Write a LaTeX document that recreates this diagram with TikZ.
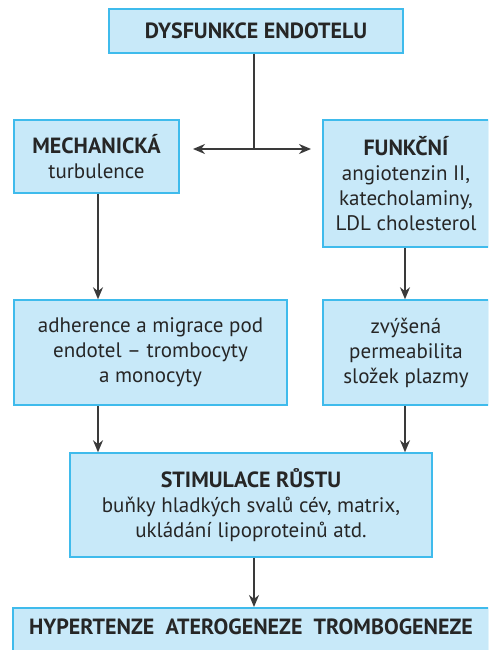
\documentclass[tikz,border=0pt]{standalone}
\usepackage{fontspec}
\setmainfont{PT Sans}
\usetikzlibrary{arrows.meta}
\definecolor{boxfill}{HTML}{C8E9F9}
\definecolor{boxline}{HTML}{3FBBEC}
\definecolor{linec}{HTML}{3A3A3A}
\newcommand{\hd}[1]{{\fontsize{22}{25}\selectfont\bfseries #1}}
\begin{document}
\begin{tikzpicture}[x=1pt,y=-1pt,
  box/.style={draw=boxline,fill=boxfill,line width=1.5pt,inner sep=0pt,align=center,
    font=\fontsize{21}{25}\selectfont,text=black!85},
  conn/.style={draw=linec,line width=1.6pt,-{Stealth[length=12pt,width=10pt]}},
  dconn/.style={draw=linec,line width=1.6pt,{Stealth[length=12pt,width=10pt]}-{Stealth[length=12pt,width=10pt]}},
  plain/.style={draw=linec,line width=1.6pt}]
\useasboundingbox (0,0) rectangle (488,650);
\clip (0,0) rectangle (488,650);
\node[box,minimum width=294pt,minimum height=44pt] (top) at (256,31) {\hd{DYSFUNKCE ENDOTELU}};
\node[box,minimum width=165pt,minimum height=73pt] (mech) at (96.5,156.5) {\hd{MECHANICKÁ}\\turbulence};
\node[box,minimum width=166pt,minimum height=127pt] (funk) at (406,183.5) {\hd{FUNKČNÍ}\\angiotenzin II,\\katecholaminy,\\LDL cholesterol};
\node[box,minimum width=273pt,minimum height=105pt] (adh) at (150.5,352.5) {adherence a migrace pod\\endotel -- trombocyty\\a monocyty};
\node[box,minimum width=166pt,minimum height=105pt] (perm) at (406,352.5) {zvýšená\\permeabilita\\složek plazmy};
\node[box,minimum width=362pt,minimum height=104pt] (stim) at (251,505) {\hd{STIMULACE RŮSTU}\\buňky hladkých svalů cév, matrix,\\ukládání lipoproteinů atd.};
\node[box,minimum width=476pt,minimum height=64pt,anchor=north] (bot) at (251,607) {\rule{0pt}{15pt}\hd{HYPERTENZE\ \ ATEROGENEZE\ \ TROMBOGENEZE}\rule[-26pt]{0pt}{0pt}};
\coordinate (j) at (254,149);
\coordinate (l) at (193,149);
\coordinate (r) at (311,149);
\draw[plain] (top.south -| j) -- (j);
\draw[dconn] (l) -- (r);
\draw[conn] (mech.south -| 98,0) -- (adh.north -| 98,0);
\draw[conn] (funk.south -| 405,0) -- (perm.north -| 405,0);
\draw[conn] (adh.south -| 98,0) -- (stim.north -| 98,0);
\draw[conn] (perm.south -| 405,0) -- (stim.north -| 405,0);
\draw[conn] (stim.south -| 254,0) -- (bot.north -| 254,0);
\end{tikzpicture}
\end{document}
